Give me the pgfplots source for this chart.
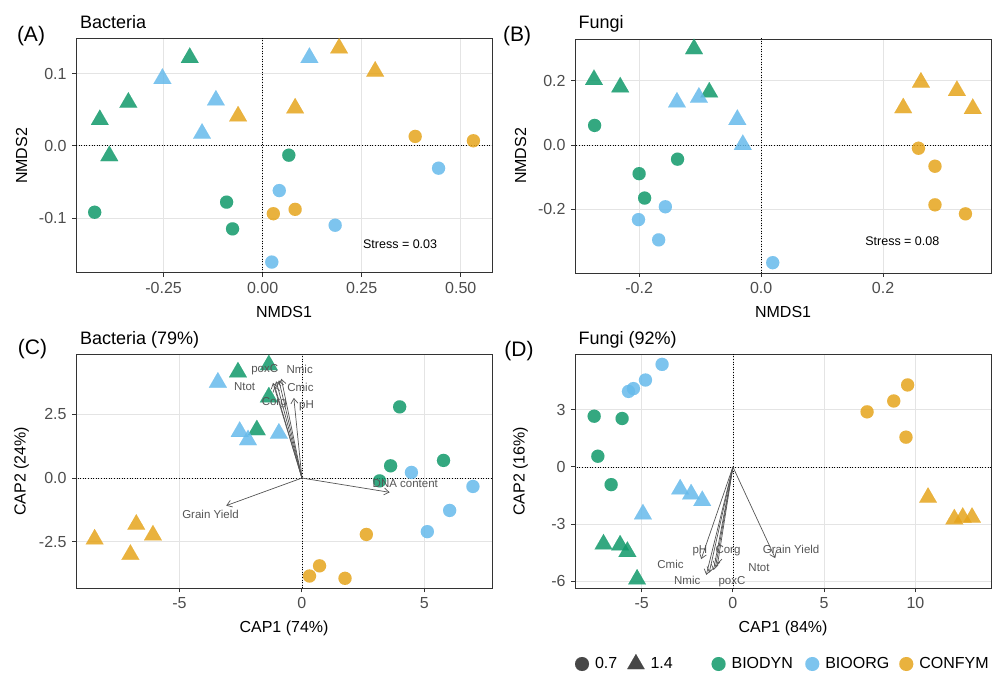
\documentclass[border=0pt]{standalone}
\usepackage{pgfplots}
\pgfplotsset{compat=1.18}
\usepackage{fontspec}
\setmainfont{Liberation Sans}
\usetikzlibrary{arrows.meta}
\definecolor{cG}{RGB}{16,153,106}
\definecolor{cB}{RGB}{102,186,235}
\definecolor{cY}{RGB}{229,164,28}
\definecolor{framec}{RGB}{51,51,51}
\definecolor{tickc}{RGB}{77,77,77}
\definecolor{gridc}{RGB}{228,228,228}
\definecolor{arrc}{RGB}{85,85,85}
\pgfplotsset{
  panel/.style={
    scale only axis, width=416pt, height=234pt,
    axis line style={framec, line width=0.9pt},
    tick align=outside, major tick length=4pt,
    major tick style={framec, line width=0.9pt},
    tick pos=left,
    grid=major, major grid style={gridc, line width=0.8pt},
    tick label style={font=\fontsize{16}{18}\selectfont, text=tickc},
    xticklabel style={yshift=-2pt},
    yticklabel style={xshift=-2pt},
    label style={font=\fontsize{16}{18}\selectfont},
    xlabel style={at={(axis description cs:0.5,-0.167)}, anchor=center},
    ylabel style={at={(axis description cs:-0.131,0.5)}, anchor=center},
  },
  ptC/.style={only marks, mark=*, mark size=6.6pt, opacity=0.85, mark options={line width=0.01pt}},
  ptT/.style={only marks, mark=triangle*, mark size=10.3pt, opacity=0.85, mark options={line width=0.01pt}},
  zl/.style={black, line width=0.7pt, dash pattern=on 1pt off 1.6pt},
  arr/.style={arrc, line width=0.7pt, -{Straight Barb[length=5pt,width=7pt]}, quiver={u=\thisrow{u},v=\thisrow{v}}},
  lab/.style={only marks, mark=none, nodes near coords, point meta=explicit symbolic,
    every node near coord/.append style={anchor=center, font=\fontsize{11.5}{13}\selectfont, text=arrc, inner sep=0pt}},
  legimg/.style={legend image code/.code={\draw[##1] plot coordinates {(0pt,0pt)};}},
}
\begin{document}
\begin{tikzpicture}
\useasboundingbox (0,0) rectangle (994pt,-673pt);
% ---------------- Panel A ----------------
\begin{axis}[panel, at={(76pt,-273pt)}, anchor=south west,
  xmin=-0.471, xmax=0.579, ymin=-0.176, ymax=0.148,
  xtick={-0.25,0,0.25,0.5}, xticklabels={-0.25,0.00,0.25,0.50},
  ytick={-0.1,0,0.1}, yticklabels={-0.1,0.0,0.1},
  xlabel={NMDS1}, ylabel={NMDS2}]
\addplot[zl] coordinates {(0,-10) (0,10)};
\addplot[zl] coordinates {(-10,0) (10,0)};
\addplot[ptC, cG] coordinates {(-0.424,-0.092) (-0.091,-0.078) (-0.076,-0.115) (0.066,-0.013)};
\addplot[ptC, cB] coordinates {(0.042,-0.062) (0.183,-0.110) (0.023,-0.161) (0.444,-0.031)};
\addplot[ptC, cY] coordinates {(0.027,-0.094) (0.082,-0.088) (0.385,0.013) (0.532,0.007)};
\addplot[ptT, cG] coordinates {(-0.411,0.036) (-0.339,0.060) (-0.184,0.122) (-0.387,-0.014)};
\addplot[ptT, cB] coordinates {(-0.253,0.093) (-0.118,0.063) (-0.153,0.017) (0.118,0.122)};
\addplot[ptT, cY] coordinates {(-0.062,0.041) (0.082,0.052) (0.193,0.135) (0.284,0.103)};
\node[font=\fontsize{12.5}{14}\selectfont] at (axis cs:0.347,-0.136) {Stress = 0.03};
\end{axis}
% ---------------- Panel B ----------------
\begin{axis}[panel, at={(575pt,-273pt)}, anchor=south west,
  xmin=-0.305, xmax=0.377, ymin=-0.398, ymax=0.330,
  xtick={-0.2,0,0.2}, xticklabels={-0.2,0.0,0.2},
  ytick={-0.2,0,0.2}, yticklabels={-0.2,0.0,0.2},
  xlabel={NMDS1}, ylabel={NMDS2}]
\addplot[zl] coordinates {(0,-10) (0,10)};
\addplot[zl] coordinates {(-10,0) (10,0)};
\addplot[ptC, cG] coordinates {(-0.273,0.061) (-0.137,-0.044) (-0.200,-0.089) (-0.191,-0.165)};
\addplot[ptC, cB] coordinates {(-0.157,-0.192) (-0.201,-0.232) (-0.168,-0.295) (0.019,-0.366)};
\addplot[ptC, cY] coordinates {(0.258,-0.010) (0.285,-0.066) (0.285,-0.186) (0.335,-0.214)};
\addplot[ptT, cG] coordinates {(-0.274,0.203) (-0.231,0.180) (-0.110,0.299) (-0.085,0.164)};
\addplot[ptT, cB] coordinates {(-0.138,0.133) (-0.102,0.148) (-0.039,0.079) (-0.030,0.001)};
\addplot[ptT, cY] coordinates {(0.233,0.115) (0.262,0.195) (0.321,0.169) (0.347,0.113)};
\node[font=\fontsize{12.5}{14}\selectfont] at (axis cs:0.2315,-0.3006) {Stress = 0.08};
\end{axis}
% ---------------- Panel C ----------------
\begin{axis}[panel, at={(76pt,-588.3pt)}, anchor=south west,
  xmin=-9.22, xmax=7.76, ymin=-4.32, ymax=4.85,
  xtick={-5,0,5}, xticklabels={-5,0,5},
  ytick={-2.5,0,2.5}, yticklabels={-2.5,0.0,2.5},
  xlabel={CAP1 (74\%)}, ylabel={CAP2 (24\%)},
  xlabel style={at={(axis description cs:0.5,-0.171)}}]
\addplot[zl] coordinates {(0,-100) (0,100)};
\addplot[zl] coordinates {(-100,0) (100,0)};
\addplot[ptC, cG] coordinates {(3.99,2.79) (3.62,0.48) (5.78,0.69) (3.17,-0.11)};
\addplot[ptC, cB] coordinates {(4.47,0.22) (6.98,-0.33) (6.03,-1.27) (5.12,-2.10)};
\addplot[ptC, cY] coordinates {(2.63,-2.21) (0.72,-3.44) (0.31,-3.84) (1.76,-3.93)};
\addplot[ptT, cG] coordinates {(-2.61,4.15) (-1.35,4.43) (-1.35,3.17) (-1.84,1.88)};
\addplot[ptT, cB] coordinates {(-3.43,3.75) (-2.54,1.82) (-2.20,1.49) (-0.94,1.75)};
\addplot[ptT, cY] coordinates {(-8.46,-2.40) (-6.76,-1.82) (-6.08,-2.24) (-7.00,-3.00)};
\addplot[arr] table[row sep=\\] {x y u v\\
0 0 -0.84 3.89\\ 0 0 -0.94 3.83\\ 0 0 -1.05 3.79\\ 0 0 -1.18 3.73\\ 0 0 -1.11 3.60\\ 0 0 -0.33 3.14\\ 0 0 3.58 -0.56\\ 0 0 -3.09 -1.08\\};
\addplot[lab] table[col sep=comma, row sep=\\, meta=label] {x,y,label\\
-0.09,4.25,Nmic\\ -0.06,3.57,Cmic\\ -1.52,4.23,poxC\\ -2.34,3.57,Ntot\\ -1.13,2.94,Corg\\ 0.19,2.84,pH\\ 4.22,-0.22,DNA content\\ -3.73,-1.41,Grain Yield\\};
\end{axis}
% ---------------- Panel D ----------------
\begin{axis}[panel, at={(575pt,-588.3pt)}, anchor=south west,
  xmin=-8.65, xmax=14.14, ymin=-6.37, ymax=5.91,
  xtick={-5,0,5,10}, xticklabels={-5,0,5,10},
  ytick={-6,-3,0,3}, yticklabels={-6,-3,0,3},
  xlabel={CAP1 (84\%)}, ylabel={CAP2 (16\%)},
  xlabel style={at={(axis description cs:0.5,-0.171)}},
  legend style={at={(axis description cs:0,-0.32)}, anchor=west, draw=none, fill=none,
    inner sep=0pt, outer sep=0pt, legend columns=5, font=\fontsize{16}{18}\selectfont,
    nodes={font=\fontsize{16}{18}\selectfont},
    /tikz/every odd column/.append style={column sep=4pt},
    /tikz/every even column/.append style={column sep=8pt}},
  legend cell align=left]
\addlegendimage{legimg, only marks, mark=*, mark size=7pt, black!72, mark options={line width=0.01pt}}
\addlegendentry{0.7}
\addlegendimage{legimg, only marks, mark=triangle*, mark size=10pt, black!72, mark options={line width=0.01pt}}
\addlegendentry{\makebox[51pt][l]{1.4}}
\addlegendimage{legimg, only marks, mark=*, mark size=7pt, cG, opacity=0.85, mark options={line width=0.01pt}}
\addlegendentry{\makebox[63.7pt][l]{BIODYN}}
\addlegendimage{legimg, only marks, mark=*, mark size=7pt, cB, opacity=0.85, mark options={line width=0.01pt}}
\addlegendentry{BIOORG}
\addlegendimage{legimg, only marks, mark=*, mark size=7pt, cY, opacity=0.85, mark options={line width=0.01pt}}
\addlegendentry{CONFYM}
\addplot[zl, forget plot] coordinates {(0,-100) (0,100)};
\addplot[zl, forget plot] coordinates {(-100,0) (100,0)};
\addplot[ptC, cG, forget plot] coordinates {(-7.60,2.66) (-6.07,2.54) (-7.40,0.56) (-6.67,-0.93)};
\addplot[ptC, cB, forget plot] coordinates {(-5.72,3.96) (-5.45,4.11) (-4.79,4.56) (-3.88,5.38)};
\addplot[ptC, cY, forget plot] coordinates {(7.35,2.89) (8.81,3.46) (9.57,4.30) (9.48,1.56)};
\addplot[ptT, cG, forget plot] coordinates {(-7.09,-4.06) (-6.18,-4.11) (-5.78,-4.45) (-5.25,-5.90)};
\addplot[ptT, cB, forget plot] coordinates {(-4.93,-2.48) (-2.89,-1.17) (-2.29,-1.43) (-1.68,-1.78)};
\addplot[ptT, cY, forget plot] coordinates {(10.69,-1.61) (12.13,-2.74) (12.59,-2.66) (13.10,-2.66)};
\addplot[arr, forget plot] table[row sep=\\] {x y u v\\
0 0 -1.46 -5.67\\ 0 0 -1.30 -5.55\\ 0 0 -1.06 -5.41\\ 0 0 -0.95 -5.25\\ 0 0 -0.84 -5.10\\ 0 0 -1.74 -4.84\\ 0 0 2.32 -4.79\\};
\addplot[lab, forget plot] table[col sep=comma, row sep=\\, meta=label] {x,y,label\\
3.19,-4.32,Grain Yield\\ -1.81,-4.39,pH\\ -0.27,-4.41,Corg\\ -3.42,-5.11,Cmic\\ -2.50,-5.97,Nmic\\ -0.05,-6.02,poxC\\ 1.43,-5.26,Ntot\\};
\end{axis}
% ---------------- titles and tags ----------------
\node[anchor=base west, font=\fontsize{18}{20}\selectfont] at (76.5pt,-28pt) {Bacteria};
\node[anchor=base west, font=\fontsize{18}{20}\selectfont] at (575pt,-28pt) {Fungi};
\node[anchor=base west, font=\fontsize{18}{20}\selectfont] at (76.5pt,-344pt) {Bacteria (79\%)};
\node[anchor=base west, font=\fontsize{18}{20}\selectfont] at (575pt,-344pt) {Fungi (92\%)};
\node[font=\fontsize{21}{23}\selectfont] at (31pt,-36pt) {(A)};
\node[font=\fontsize{21}{23}\selectfont] at (517pt,-36pt) {(B)};
\node[font=\fontsize{21}{23}\selectfont] at (32.5pt,-349pt) {(C)};
\node[font=\fontsize{21}{23}\selectfont] at (519pt,-351pt) {(D)};
\end{tikzpicture}
\end{document}
